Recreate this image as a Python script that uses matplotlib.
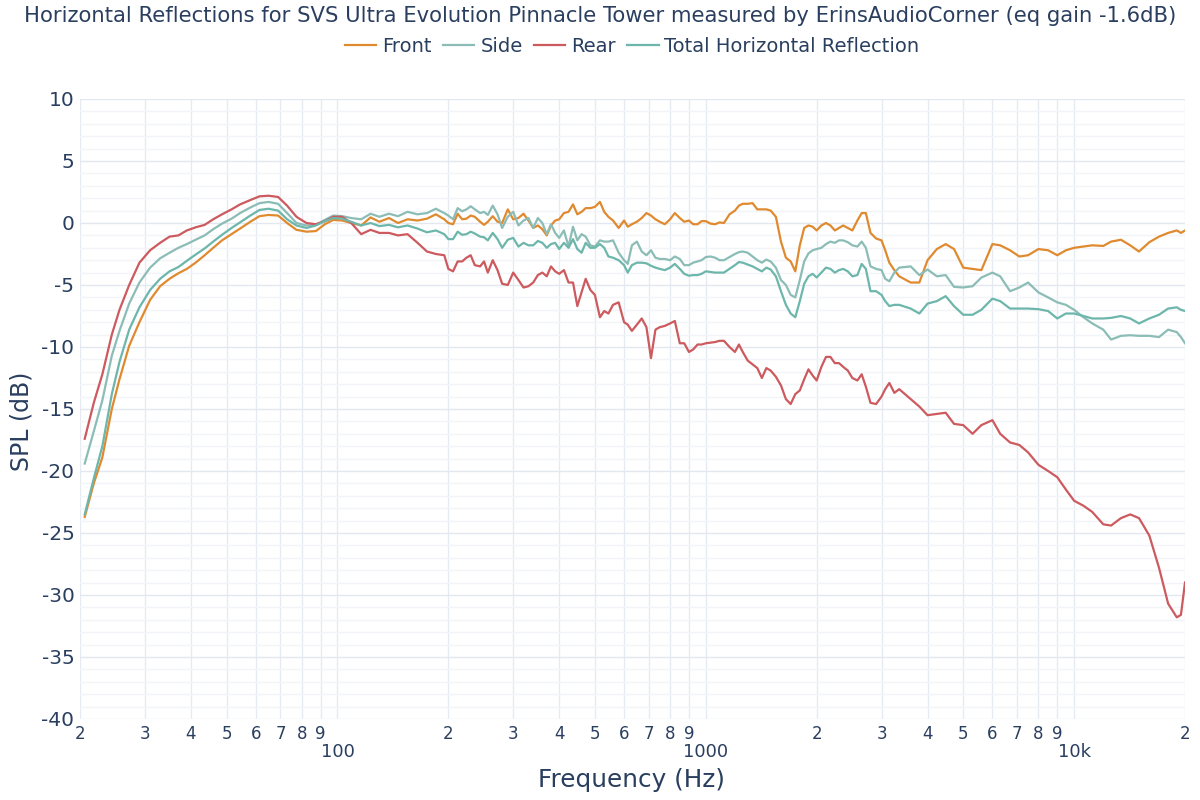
import matplotlib
matplotlib.use('Agg')
import matplotlib.pyplot as plt

plt.rcParams['font.family'] = ['DejaVu Sans']
plt.rcParams['axes.unicode_minus'] = False

title = ('Horizontal Reflections for SVS Ultra Evolution Pinnacle Tower '
         'measured by ErinsAudioCorner (eq gain -1.6dB)')

# frequencies (Hz)
freq = [20.6, 21.8, 23.0, 24.4, 25.6, 27.2, 29.0, 31.0, 33.0, 35.0,
        37.0, 39.0, 41.2, 43.6, 46.0, 48.6, 51.6, 54.4, 58.0, 61.4,
        65.0, 69.0, 73.0, 77.4, 82.4, 87.4, 92.4, 97.4, 103, 109,
        116, 123, 130, 138, 146, 155, 165, 175, 185, 195,
        200, 206, 212, 218, 224, 230, 236, 244, 250, 256,
        264, 272, 280, 290, 300, 310, 320, 330, 340, 350,
        360, 370, 380, 390, 400, 412, 424, 436, 448, 460,
        472, 486, 500, 516, 530, 544, 560, 580, 600, 614,
        630, 650, 670, 690, 710, 730, 750, 774, 800, 824,
        850, 874, 900, 924, 950, 974, 1000, 1030, 1060, 1090,
        1120, 1160, 1200, 1230, 1260, 1300, 1340, 1380, 1420, 1460,
        1500, 1550, 1600, 1650, 1700, 1750, 1800, 1850, 1900, 1950,
        2000, 2060, 2120, 2180, 2240, 2300, 2360, 2430, 2500, 2580,
        2650, 2720, 2800, 2900, 3000, 3070, 3150, 3250, 3350,
        3600, 3800, 4000, 4240, 4480, 4720, 5000, 5300, 5600, 6000,
        6300, 6700, 7100, 7500, 8000, 8500, 9000, 9500, 10000, 10600,
        11200, 12000, 12600, 13400, 14200, 15000, 16000, 17000, 18000, 19000,
        19500, 20000]

front = [-23.7, -21.0, -18.9, -15.0, -12.6, -9.9, -8.0, -6.2, -5.1, -4.5,
         -4.05, -3.7, -3.2, -2.6, -2.0, -1.4, -0.9, -0.45, 0.1, 0.55,
         0.65, 0.6, 0.0, -0.55, -0.7, -0.65, -0.1, 0.25, 0.2, 0.0,
         -0.2, 0.45, 0.1, 0.4, 0.0, 0.3, 0.2, 0.35, 0.7, 0.3,
         0.0, -0.1, 0.75, 0.3, 0.35, 0.6, 0.5, 0.1, -0.15, 0.1,
         0.55, 0.1, 0.0, 1.1, 0.3, 0.4, 0.75, 0.2, -0.4, -0.2,
         -0.5, -1.0, -0.2, 0.2, 0.3, 0.8, 0.9, 1.5, 0.7, 0.9,
         1.2, 1.2, 1.3, 1.7, 0.9, 0.5, 0.2, -0.4, 0.2, -0.3,
         -0.1, 0.1, 0.4, 0.8, 0.6, 0.3, 0.1, -0.1, 0.3, 0.8,
         0.4, 0.1, 0.2, -0.1, -0.1, 0.15, 0.15, -0.05, -0.1, 0.05,
         0.0, 0.7, 1.0, 1.4, 1.55, 1.55, 1.6, 1.1, 1.1, 1.1,
         1.0, 0.5, -1.5, -2.8, -3.1, -3.9, -1.8, -0.4, -0.2, -0.3,
         -0.6, -0.2, 0.0, -0.2, -0.6, -0.4, -0.2, -0.4, -0.6, 0.2,
         0.8, 0.8, -0.8, -1.25, -1.4, -2.2, -3.2, -3.8, -4.3,
         -4.8, -4.8, -3.0, -2.1, -1.7, -2.1, -3.6, -3.7, -3.8, -1.7,
         -1.8, -2.2, -2.7, -2.6, -2.1, -2.2, -2.6, -2.2, -2.0, -1.9,
         -1.8, -1.85, -1.5, -1.35, -1.8, -2.3, -1.55, -1.1, -0.8, -0.6,
         -0.8, -0.6]

side = [-19.4, -16.8, -14.3, -10.7, -8.7, -6.5, -4.8, -3.6, -2.85, -2.4,
        -2.0, -1.7, -1.35, -1.0, -0.5, -0.05, 0.35, 0.8, 1.25, 1.6,
        1.7, 1.55, 0.8, 0.0, -0.2, -0.15, 0.25, 0.6, 0.55, 0.4,
        0.3, 0.75, 0.5, 0.75, 0.55, 0.9, 0.7, 0.8, 1.15, 0.8,
        0.6, 0.3, 1.2, 0.95, 1.1, 1.35, 1.1, 0.8, 0.9, 0.65,
        1.4, 0.7, -0.4, 0.5, 0.9, -0.2, 0.2, 0.4, -0.4, 0.4,
        0.0, -0.9, -0.1, -0.8, -1.2, -0.6, -1.9, -0.3, -1.4, -0.9,
        -1.1, -1.8, -1.9, -1.4, -1.5, -1.5, -1.4, -2.4, -3.0, -3.3,
        -1.8, -1.5, -2.3, -2.6, -2.2, -2.8, -2.9, -2.9, -3.0, -2.7,
        -2.9, -3.4, -3.4, -3.2, -3.1, -3.0, -2.75, -2.7, -2.8, -3.0,
        -3.0, -2.75, -2.5, -2.35, -2.3, -2.4, -2.7, -3.0, -3.2, -2.95,
        -3.1, -3.6, -4.6, -5.0, -5.8, -6.0, -4.6, -3.1, -2.45, -2.2,
        -2.1, -2.0, -1.7, -1.5, -1.6, -1.4, -1.4, -1.55, -1.8, -1.9,
        -1.5, -2.0, -3.5, -3.7, -3.8, -4.5, -4.7, -4.0, -3.6,
        -3.5, -4.2, -3.75, -4.3, -4.2, -5.15, -5.2, -5.1, -4.4, -4.0,
        -4.3, -5.5, -5.2, -4.8, -5.6, -6.0, -6.4, -6.6, -7.0, -7.6,
        -8.1, -8.6, -9.4, -9.1, -9.05, -9.1, -9.1, -9.2, -8.6, -8.8,
        -9.2, -9.7]

rear = [-17.4, -14.5, -12.2, -9.0, -7.0, -5.0, -3.2, -2.2, -1.6, -1.1,
        -1.0, -0.6, -0.35, -0.15, 0.3, 0.7, 1.1, 1.5, 1.85, 2.15,
        2.2, 2.1, 1.4, 0.5, 0.0, -0.1, 0.15, 0.5, 0.5, 0.0,
        -0.9, -0.55, -0.8, -0.8, -1.0, -0.9, -1.6, -2.3, -2.5, -2.6,
        -3.7, -3.9, -3.1, -3.1, -2.8, -2.6, -3.4, -3.5, -3.1, -4.0,
        -3.0, -3.8, -4.9, -5.0, -4.0, -4.6, -5.2, -5.1, -4.8, -4.2,
        -4.0, -4.3, -3.5, -3.9, -4.1, -3.8, -4.8, -4.8, -6.7, -5.6,
        -4.5, -5.4, -5.8, -7.6, -7.1, -7.3, -6.6, -6.4, -8.0, -8.2,
        -8.7, -8.2, -7.7, -8.4, -10.9, -8.6, -8.4, -8.3, -8.1, -7.9,
        -9.7, -9.7, -10.4, -10.2, -9.8, -9.8, -9.7, -9.65, -9.6, -9.5,
        -9.5, -10.0, -10.4, -9.8, -10.4, -11.1, -11.4, -11.7, -12.5, -11.7,
        -11.9, -12.4, -13.1, -14.2, -14.6, -13.8, -13.5, -12.6, -11.8, -12.3,
        -12.7, -11.6, -10.8, -10.8, -11.3, -11.3, -11.6, -11.9, -12.5, -12.7,
        -12.2, -13.2, -14.5, -14.6, -14.0, -13.4, -12.9, -13.7, -13.4,
        -14.2, -14.8, -15.5, -15.4, -15.3, -16.2, -16.3, -17.0, -16.3, -15.9,
        -17.0, -17.7, -17.9, -18.5, -19.5, -20.0, -20.5, -21.5, -22.4, -22.8,
        -23.3, -24.3, -24.4, -23.8, -23.5, -23.8, -25.2, -27.8, -30.7, -31.8,
        -31.6, -29.0]

total = [-23.5, -20.6, -18.0, -13.8, -11.2, -8.6, -6.8, -5.4, -4.5, -3.9,
         -3.55, -3.05, -2.55, -2.05, -1.5, -0.95, -0.4, 0.05, 0.6, 1.05,
         1.15, 1.0, 0.3, -0.2, -0.4, -0.2, 0.15, 0.4, 0.35, 0.1,
         -0.2, 0.0, -0.25, -0.15, -0.35, -0.2, -0.45, -0.75, -0.6, -0.9,
         -1.3, -1.3, -0.7, -0.95, -0.9, -0.7, -0.85, -1.1, -1.15, -1.4,
         -0.8, -1.3, -2.0, -1.35, -1.2, -1.9, -1.6, -1.8, -1.8, -1.45,
         -1.6, -2.0, -1.7, -1.6, -2.1, -1.6, -2.0, -1.3, -2.1, -2.4,
         -1.6, -2.0, -2.0, -1.7, -2.0, -2.7, -2.8, -3.0, -3.4, -4.0,
         -3.4, -3.2, -3.2, -3.25, -3.45, -3.6, -3.7, -3.8, -3.6, -3.3,
         -3.7, -4.1, -4.25, -4.2, -4.2, -4.1, -3.9, -3.95, -4.0, -4.0,
         -4.0, -3.7, -3.4, -3.15, -3.2, -3.35, -3.5, -3.7, -3.9, -3.6,
         -3.75, -4.3, -5.5, -6.6, -7.3, -7.6, -6.3, -4.9, -4.3, -4.1,
         -4.4, -4.0, -3.6, -3.7, -4.0, -3.8, -3.7, -3.9, -4.3, -4.2,
         -3.3, -3.7, -5.5, -5.5, -5.8, -6.3, -6.7, -6.6, -6.6,
         -6.9, -7.3, -6.5, -6.3, -5.9, -6.7, -7.4, -7.4, -7.0, -6.1,
         -6.3, -6.9, -6.9, -6.9, -6.95, -7.1, -7.7, -7.3, -7.3, -7.5,
         -7.7, -7.7, -7.65, -7.5, -7.7, -8.1, -7.7, -7.4, -6.9, -6.8,
         -7.0, -7.1]

series_names = ['Front', 'Side', 'Rear', 'Total Horizontal Reflection']
series_colors = ['#e08a30', '#8bbdb6', '#cc5a5e', '#6db6ab']

x_minor = [20, 30, 40, 50, 60, 70, 80, 90,
           200, 300, 400, 500, 600, 700, 800, 900,
           2000, 3000, 4000, 5000, 6000, 7000, 8000, 9000, 20000]
x_minor_labels = ['2', '3', '4', '5', '6', '7', '8', '9',
                  '2', '3', '4', '5', '6', '7', '8', '9',
                  '2', '3', '4', '5', '6', '7', '8', '9', '2']
x_major = [100, 1000, 10000]
x_major_labels = ['100', '1000', '10k']
y_major = list(range(-40, 11, 5))
y_minor = list(range(-40, 11, 1))

text_color = '#2a3f5f'

fig = plt.figure(figsize=(12, 8), dpi=100)
ax = fig.add_axes([80/1200, 81/800, 1105/1200, 620/800])

for vals, name, col in zip([front, side, rear, total], series_names, series_colors):
    ax.plot(freq, vals, color=col, lw=1.6, label=name)

ax.set_xscale('log')
ax.set_xlim(20, 20000)
ax.set_ylim(-40, 10)

ax.set_xticks(x_major)
ax.set_xticklabels(x_major_labels)
ax.set_xticks(x_minor, minor=True)
ax.set_xticklabels(x_minor_labels, minor=True)
ax.set_yticks(y_major)
ax.set_yticklabels([str(v) for v in y_major])
ax.set_yticks(y_minor, minor=True)

ax.tick_params(axis='x', which='major', length=0, pad=17, labelsize=13, labelcolor=text_color)
ax.tick_params(axis='x', which='minor', length=0, pad=4, labelsize=12, labelcolor=text_color)
ax.tick_params(axis='y', which='both', length=0, pad=4, labelsize=14.5, labelcolor=text_color)

ax.grid(True, which='major', axis='x', color='#e6ebf2', lw=1)
ax.grid(True, which='minor', axis='x', color='#e6ebf2', lw=1)
ax.grid(True, which='major', axis='y', color='#e3e8f0', lw=1)
ax.grid(True, which='minor', axis='y', color='#f1f4f8', lw=1)
ax.set_axisbelow(True)
for s in ax.spines.values():
    s.set_visible(False)

fig.text(22/1200, 1 - 421/800, 'SPL (dB)', rotation=90, ha='center', va='center',
         fontsize=17, color=text_color)
fig.text(632/1200, 1 - 780/800, 'Frequency (Hz)', ha='center', va='center',
         fontsize=17.8, color=text_color)
fig.text(0.5, 1 - 16/800, title, ha='center', va='center', fontsize=15.2, color=text_color)

handles, labels = ax.get_legend_handles_labels()
leg = fig.legend(handles, labels, loc='center', bbox_to_anchor=(0.527, 1 - 46/800),
                 ncol=4, frameon=False, fontsize=14, handlelength=1.6,
                 handletextpad=0.3, columnspacing=0.6)
for t in leg.get_texts():
    t.set_color(text_color)

fig.savefig('out.png', dpi=100)
